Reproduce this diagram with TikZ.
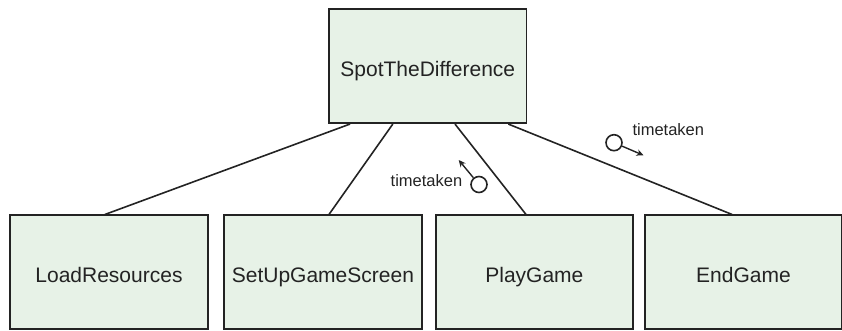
\documentclass[tikz,border=0pt]{standalone}
\usepackage{fontspec}
\setmainfont{Liberation Sans}
\usetikzlibrary{arrows.meta}
\definecolor{boxfill}{RGB}{231,242,231}
\definecolor{boxline}{RGB}{35,35,35}
\definecolor{txt}{RGB}{35,35,35}
\begin{document}
\begin{tikzpicture}[x=1pt,y=-1pt,
  box/.style={draw=boxline, line width=1.7pt, fill=boxfill, rectangle,
    minimum width=197.5pt, minimum height=114pt, inner sep=0pt,
    text=txt, font=\fontsize{21}{25}\selectfont, text height=21pt, text depth=0pt},
  conn/.style={draw=boxline, line width=1.6pt},
  flowc/.style={circle, draw=boxline, line width=1.6pt, fill=white, minimum size=16pt, inner sep=0pt},
  flowarrow/.style={draw=boxline, line width=1.4pt, -{Stealth[length=7pt,width=6.5pt]}},
  flowlabel/.style={text=txt, font=\fontsize{16.5}{19}\selectfont, inner sep=0pt, anchor=base}
]
\useasboundingbox (0,0) rectangle (842,330);
\node[box] (top) at (427.8,66.2) {SpotTheDifference};
\node[box] (b1) at (109,272.3) {LoadResources};
\node[box] (b2) at (322.9,272.3) {SetUpGameScreen};
\node[box] (b3) at (534.4,272.3) {PlayGame};
\node[box] (b4) at (743.5,272.3) {EndGame};

\draw[conn] ([xshift=-77.8pt]top.south) -- ([xshift=-4pt]b1.north);
\draw[conn] ([xshift=-35pt]top.south) -- ([xshift=6.1pt]b2.north);
\draw[conn] ([xshift=27.2pt]top.south) -- ([xshift=-8.4pt]b3.north);
\draw[conn] ([xshift=80.5pt]top.south) -- ([xshift=-11.5pt]b4.north);

% data flow 1 (up from PlayGame)
\node[flowc] (c1) at (479,184.5) {};
\coordinate (t1) at (458.7,160);
\draw[flowarrow] (c1) -- (t1);
\node[flowlabel] (l1) at (426.5,186.6) {timetaken};

% data flow 2 (down to EndGame)
\node[flowc] (c2) at (614,142.7) {};
\coordinate (t2) at (643.5,155.3);
\draw[flowarrow] (c2) -- (t2);
\node[flowlabel] (l2) at (668.3,135) {timetaken};
\end{tikzpicture}
\end{document}
